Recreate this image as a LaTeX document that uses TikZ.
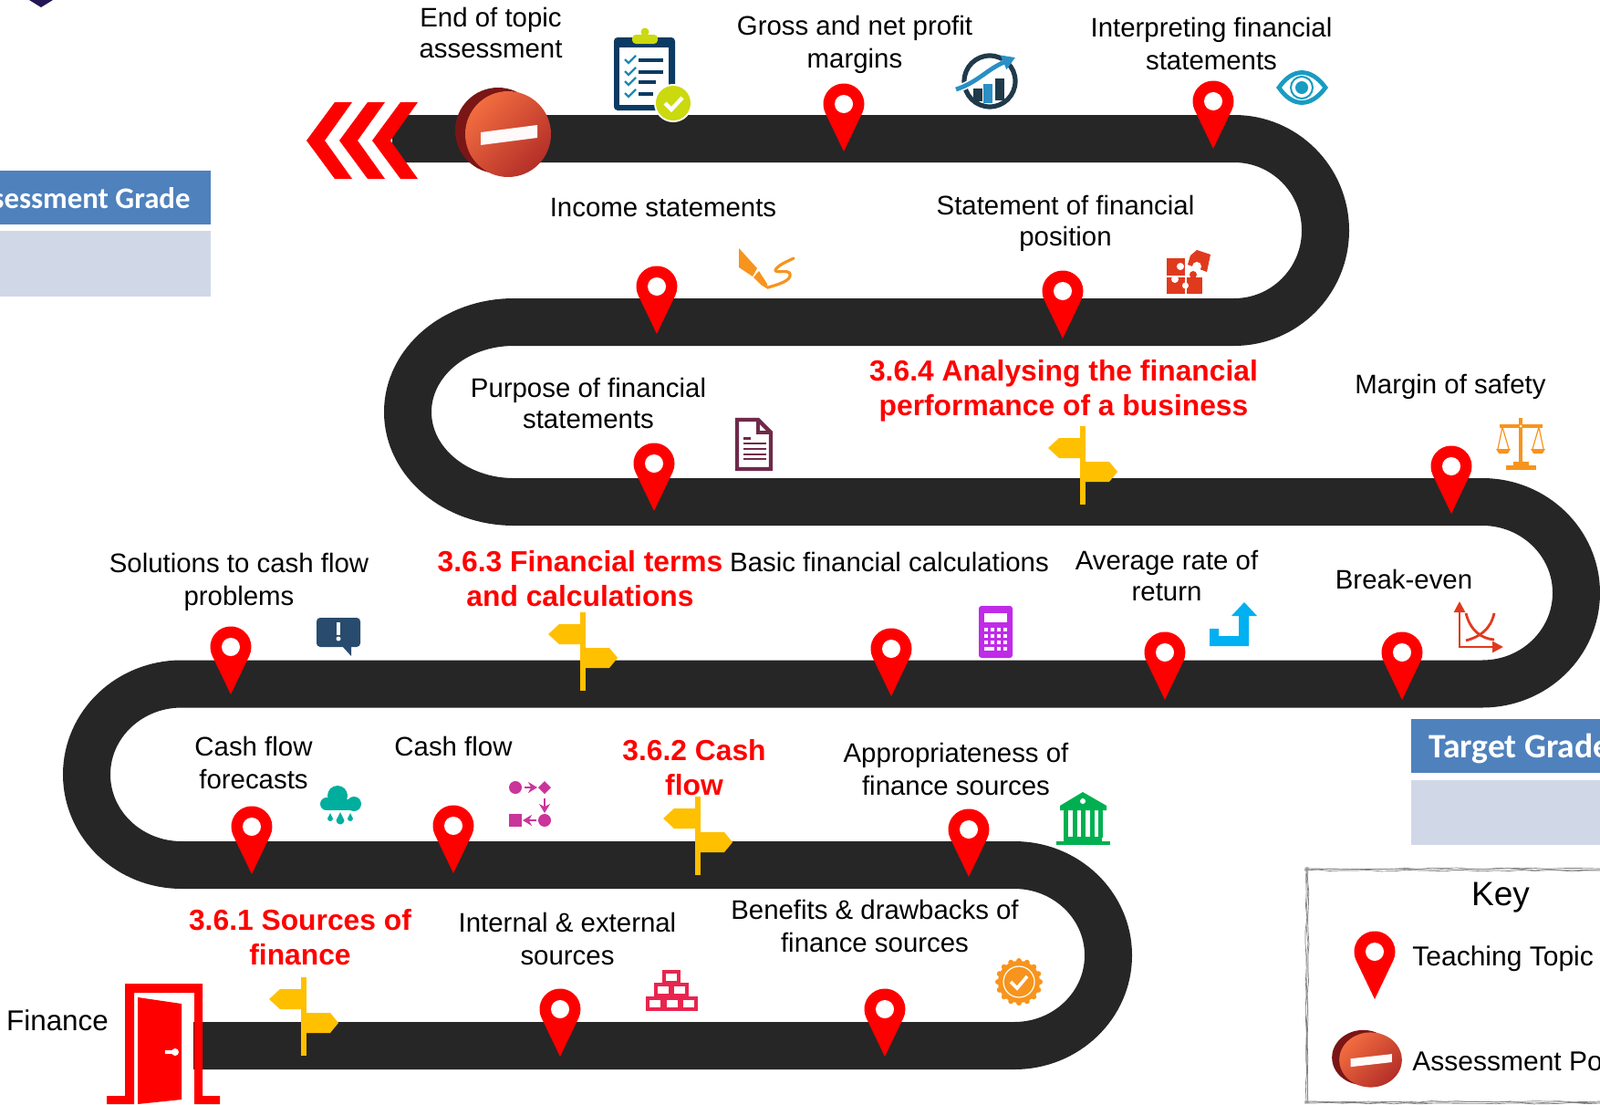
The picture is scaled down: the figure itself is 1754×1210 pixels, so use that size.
\documentclass[tikz,border=0pt]{standalone}
\usepackage{fontspec}
\usepackage{xcolor}
\setmainfont{Liberation Sans}
\newfontfamily\gradefont{Carlito}
\usetikzlibrary{arrows.meta,decorations.pathmorphing}

\definecolor{roadgrey}{HTML}{262626}
\definecolor{pinred}{HTML}{FF0000}
\definecolor{postyellow}{HTML}{FFC000}
\definecolor{headblue}{HTML}{4F81BD}
\definecolor{paleblue}{HTML}{D0D8E8}
\definecolor{stoplight}{HTML}{F26C40}
\definecolor{stopdark}{HTML}{B42F28}
\definecolor{stopback}{HTML}{7A1616}
\definecolor{crestnavy}{HTML}{241654}
\definecolor{clipnavy}{HTML}{0B3A63}
\definecolor{clipgreen}{HTML}{CBD90F}
\definecolor{tickblue}{HTML}{1D8CB3}
\definecolor{arrowblue}{HTML}{2A8FC4}
\definecolor{ringnavy}{HTML}{1F3A4A}
\definecolor{eyeblue}{HTML}{1A9BC2}
\definecolor{iconorange}{HTML}{F7941D}
\definecolor{docplum}{HTML}{6F2A4A}
\definecolor{puzzlered}{HTML}{E03A1E}
\definecolor{chatblue}{HTML}{284B6E}
\definecolor{calcpurple}{HTML}{C02BE8}
\definecolor{returncyan}{HTML}{00B0F0}
\definecolor{cloudteal}{HTML}{00AE9E}
\definecolor{flowpink}{HTML}{C9359B}
\definecolor{barcrimson}{HTML}{E8254F}
\definecolor{bankgreen}{HTML}{00B050}

\tikzset{
    topictext/.style={inner sep=0pt,align=center,font=\fontsize{14.7}{17}\selectfont},
    widetext/.style={topictext,font=\fontsize{14.7}{18}\selectfont},
    sectiontext/.style={inner sep=0pt,align=center,text=pinred,font=\fontsize{15.9}{19}\selectfont\bfseries},
    gradetext/.style={inner sep=0pt,text=white,font=\fontsize{16.4}{20}\selectfont\gradefont\bfseries},
    sketchline/.style={gray,line width=0.35pt,decorate,decoration={random steps,segment length=7pt,amplitude=0.5pt}},
    mapPin/.pic={
        \fill[pinred] (0,0) -- (-20.3,-42.3) arc[start angle=154.4,end angle=385.6,radius=22.5] -- cycle;
        \fill[white] (0,-52) circle[radius=10];
    },
    signPost/.pic={
        \fill[postyellow] (-3,-86) rectangle (3,0);
        \fill[postyellow] (-3,-73) -- (-26,-73) -- (-38,-62) -- (-26,-51) -- (-3,-51) -- cycle;
        \fill[postyellow] (3,-47) -- (29,-47) -- (38,-36) -- (29,-25) -- (3,-25) -- cycle;
    },
    stopSign/.pic={
        \fill[stopback] (-11,-4) circle[radius=47];
        \shade[top color=stoplight,bottom color=stopdark,shading angle=45] (0,0) circle[radius=47];
        \fill[white!92!pink] (-30,-2) -- (32,-10) -- (32,4) -- (-30,12) -- cycle;
    },
}

\begin{document}
\begin{tikzpicture}[x=0.5pt,y=-0.5pt]
    \useasboundingbox (0,0) rectangle (1754,1210);
    \clip (0,0) rectangle (1754,1210);

    % road
    \draw[roadgrey,line width=26pt] (430,152) -- (1353,152)
        arc[start angle=-90,end angle=90,x radius=100,y radius=100.5] -- (563,353)
        arc[start angle=270,end angle=90,x radius=116,y radius=98.5] -- (1625,550)
        arc[start angle=-90,end angle=90,x radius=103,y radius=99.75] -- (199,749.5)
        arc[start angle=270,end angle=90,x radius=104,y radius=99.25] -- (1112,948)
        arc[start angle=-90,end angle=90,x radius=103,y radius=99] -- (212,1146);

    % end chevrons
    \foreach \tipx in {336,372,408}
        \fill[pinred] (\tipx,154) -- (\tipx+31,112) -- (\tipx+50,112) -- (\tipx+20,154) -- (\tipx+50,196) -- (\tipx+31,196) -- cycle;

    % door
    \fill[pinred] (117,1210) -- (117,1201) -- (137,1201) -- (137,1078) -- (222,1078) -- (222,1201) -- (241,1201) -- (241,1210)
        -- (213,1210) -- (213,1088) -- (147,1088) -- (147,1210) -- cycle;
    \fill[pinred] (151,1093) -- (199,1100) -- (199,1205) -- (151,1210) -- cycle;
    \draw[white,line width=1.6pt] (181,1153) -- (191,1153);
    \fill[white] (192,1153) circle[radius=4];

    % grade boxes
    \fill[headblue] (0,187) rectangle (231,246);
    \fill[paleblue] (0,253) rectangle (231,325);
    \node[gradetext,anchor=east] (assessGrade) at (209,217) {Assessment Grade};
    \fill[headblue] (1547,788) rectangle (1754,847);
    \fill[paleblue] (1547,855) rectangle (1754,926);
    \node[gradetext,anchor=west,font=\fontsize{18.8}{22}\selectfont\gradefont\bfseries] (targetGrade) at (1566,820) {Target Grade};

    % crest cut by the page edge
    \fill[crestnavy] (32,0) -- (58,0) -- (45,8) -- cycle;

    % key
    \foreach \off in {-1,0,1} {
        \draw[sketchline] (1433+\off,950) -- (1433+\off,1209);
        \draw[sketchline] (1430,953+\off) -- (1754,953+\off);
        \draw[sketchline] (1430,1208+\off) -- (1754,1208+\off);
    }
    \node[inner sep=0pt,font=\fontsize{18.5}{22}\selectfont] (keyTitle) at (1645,984) {Key};
    \pic (keyPin) at (1507,1095) {mapPin};
    \node[topictext,anchor=west,font=\fontsize{15}{17}\selectfont] (keyTopic) at (1548,1051) {Teaching Topic};
    \pic[xscale=.73,yscale=.64] (keyStop) at (1502.5,1161.5) {stopSign};
    \node[topictext,anchor=west,font=\fontsize{15}{17}\selectfont] (keyPoint) at (1548,1163) {Assessment Point};

    % markers on the road
    \pic (stopEnd) at (557,147) {stopSign};
    \pic (pinGross) at (925,166) {mapPin};
    \pic (pinInterp) at (1330,163) {mapPin};
    \pic (pinIncome) at (720,366) {mapPin};
    \pic (pinPosition) at (1165,371) {mapPin};
    \pic (pinPurpose) at (717,560) {mapPin};
    \pic (pinSafety) at (1591,563) {mapPin};
    \pic (pinSolutions) at (253,761) {mapPin};
    \pic (pinBasic) at (977,763) {mapPin};
    \pic (pinAverage) at (1277,767) {mapPin};
    \pic (pinBreak) at (1537,767) {mapPin};
    \pic (pinForecast) at (276,958) {mapPin};
    \pic (pinCash) at (497,957) {mapPin};
    \pic (pinApprop) at (1062,961) {mapPin};
    \pic (pinInternal) at (614,1158) {mapPin};
    \pic (pinBenefits) at (970,1158) {mapPin};
    \pic (postSources) at (333,1157) {signPost};
    \pic (postCash) at (765,959) {signPost};
    \pic (postTerms) at (639,757) {signPost};
    \pic (postRatios) at (1187,553) {signPost};

    % texts
    \node[topictext] (endTopic) at (538,36) {End of topic\\assessment};
    \node[widetext] (gross) at (937,49) {Gross and net profit\\margins};
    \node[widetext] (interp) at (1328,48) {Interpreting financial\\statements};
    \node[topictext] (income) at (727,228) {Income statements};
    \node[topictext] (position) at (1168,245) {Statement of financial\\position};
    \node[sectiontext] (secRatios) at (1166,428) {3.6.4 Analysing the financial\\performance of a business};
    \node[topictext] (safety) at (1590,424) {Margin of safety};
    \node[topictext] (purpose) at (645,442) {Purpose of financial\\statements};
    \node[widetext] (solutions) at (262,638) {Solutions to cash flow\\problems};
    \node[sectiontext] (secTerms) at (636,634) {3.6.3 Financial terms\\and calculations};
    \node[topictext] (basic) at (975,616) {Basic financial calculations};
    \node[topictext] (average) at (1279,631) {Average rate of\\return};
    \node[topictext] (breakEven) at (1539,635) {Break-even};
    \node[widetext] (forecast) at (278,836) {Cash flow\\forecasts};
    \node[topictext] (cash) at (497,818) {Cash flow};
    \node[sectiontext] (secCash) at (761,841) {3.6.2 Cash\\flow};
    \node[widetext] (approp) at (1048,843) {Appropriateness of\\finance sources};
    \node[sectiontext] (secSources) at (329,1027) {3.6.1 Sources of\\finance};
    \node[widetext] (internal) at (622,1029) {Internal \& external\\sources};
    \node[widetext] (benefits) at (959,1015) {Benefits \& drawbacks of\\finance sources};
    \node[topictext,font=\fontsize{15.7}{18}\selectfont] (finance) at (63,1118) {Finance};

    % clipboard
    \fill[clipnavy,rounded corners=2pt] (673,41) rectangle (740,121);
    \fill[white] (679,52) rectangle (733,115);
    \fill[clipgreen,rounded corners=2pt] (693,38) rectangle (721,48);
    \fill[clipgreen] (707,35) circle[radius=4.5];
    \foreach \rowy/\endx in {66/727,79/727,90/719,103/716} {
        \draw[tickblue,line width=1.2pt] (685,\rowy-1) -- (689,\rowy+3) -- (697,\rowy-5);
        \draw[clipnavy,line width=1.7pt] (700,\rowy) -- (\endx,\rowy);
    }
    \fill[white] (738,113) circle[radius=21];
    \fill[clipgreen] (738,113) circle[radius=19];
    \draw[white,line width=2.2pt] (729,113) -- (736,120) -- (748,107);

    % growth chart
    \draw[ringnavy,line width=2.6pt] (1085,89) circle[radius=28];
    \fill[ringnavy] (1067,97) rectangle (1077,111);
    \fill[arrowblue] (1078,92) rectangle (1088,113);
    \fill[ringnavy] (1091,86) rectangle (1101,110);
    \draw[white,line width=4pt] (1048,98) .. controls (1072,90) and (1082,76) .. (1105,68);
    \draw[arrowblue,line width=2.4pt,-{Triangle[length=7pt,width=8pt]}] (1048,98) .. controls (1072,90) and (1082,76) .. (1113,63);

    % eye
    \draw[eyeblue,line width=2.4pt] (1402,96) .. controls (1417,74) and (1437,74) .. (1453,96) .. controls (1437,118) and (1417,118) .. cycle;
    \draw[eyeblue,line width=1pt] (1427,96) circle[radius=12];
    \fill[eyeblue] (1427,96) circle[radius=7];

    % pen
    \fill[iconorange] (810,272) -- (830,294) -- (825,303) -- (810,293) -- cycle;
    \fill[iconorange] (832,297) -- (841,311) -- (842,317) -- (834,312) -- (826,304) -- cycle;
    \draw[iconorange,line width=1.6pt,line cap=round,line join=round] (842,315) .. controls (852,312) and (868,308) .. (866,300) .. controls (864,295) and (850,300) .. (850,296) .. controls (852,291) and (862,287) .. (870,283);

    % puzzle
    \fill[puzzlered] (1279,283) rectangle (1299,302);
    \fill[puzzlered] (1279,303.5) rectangle (1299,322);
    \fill[puzzlered] (1300.5,303.5) rectangle (1318,322);
    \fill[puzzlered] (1308,301) circle[radius=4];
    \fill[white] (1294,292) circle[radius=4];
    \fill[white] (1288,306) circle[radius=4];
    \fill[white] (1299.5,313) circle[radius=3.5];
    \fill[puzzlered] (1312,274) -- (1327,279) -- (1323,298) -- (1302,290) -- (1305,280) -- cycle;
    \fill[white] (1312,292) circle[radius=5];

    % document
    \draw[docplum,line width=2.2pt,line join=miter] (808,460) -- (831,460) -- (845,474) -- (845,514) -- (808,514) -- cycle;
    \draw[docplum,line width=1.6pt] (831,460) -- (831,474) -- (845,474);
    \draw[docplum,line width=1.5pt] (815,480) -- (823,480);
    \foreach \rowy in {486,492,498,503}
        \draw[docplum,line width=1.4pt] (815,\rowy) -- (840,\rowy);

    % scales
    \fill[iconorange] (1665,458) rectangle (1669,508);
    \fill[iconorange] (1644,465) rectangle (1691,469);
    \fill[iconorange] (1659,506) rectangle (1676,510);
    \fill[iconorange] (1651,510) rectangle (1684,515);
    \fill[white] (1667,467) circle[radius=1.5];
    \draw[iconorange,line width=0.6pt] (1642,492) -- (1647,468) -- (1654,492);
    \draw[iconorange,line width=0.6pt] (1680,492) -- (1687,468) -- (1692,492);
    \fill[iconorange] (1640,492) -- (1656,492) -- (1653,497) -- (1643,497) -- cycle;
    \fill[iconorange] (1678,492) -- (1694,492) -- (1691,497) -- (1681,497) -- cycle;

    % chat bubble
    \fill[chatblue,rounded corners=2pt] (347,677) rectangle (395,709);
    \fill[chatblue] (375,708) -- (385,719) -- (385,708) -- cycle;
    \draw[white,line width=1.9pt] (371,682) -- (371,696);
    \fill[white] (371,700) circle[radius=2.5];

    % calculator
    \fill[calcpurple,rounded corners=1.5pt] (1073,664) rectangle (1110,721);
    \fill[white] (1079,672) rectangle (1104,682);
    \foreach \keyx in {1081,1088,1095,1102}
        \foreach \keyy in {688,695,702}
            \fill[white] (\keyx-2,\keyy) rectangle (\keyx+2,\keyy+4);
    \fill[white] (1079,709) rectangle (1090,713);
    \fill[white] (1093,709) rectangle (1097,713);
    \fill[white] (1100,709) rectangle (1104,713);

    % return arrow
    \fill[returncyan] (1326,689) -- (1336,689) -- (1336,697) -- (1358,697) -- (1358,675) -- (1350,675) -- (1364,660) -- (1378,675) -- (1369,675) -- (1369,708) -- (1326,708) -- cycle;

    % break-even graph
    \draw[puzzlered,line width=1.3pt,{Triangle[length=6pt,width=6pt]}-{Triangle[length=6pt,width=6pt]}] (1600,659) -- (1600,709) -- (1648,709);
    \draw[puzzlered,line width=1.4pt] (1607,672) .. controls (1612,692) and (1625,700) .. (1638,701);
    \draw[puzzlered,line width=1.4pt] (1607,702) .. controls (1622,698) and (1634,690) .. (1638,672);

    % rain cloud
    \fill[cloudteal] (370,872) circle[radius=11];
    \fill[cloudteal] (358,881) circle[radius=7];
    \fill[cloudteal] (388,881) circle[radius=8];
    \fill[cloudteal] (358,876) rectangle (388,888);
    \foreach \dropx/\dropy/\dropr in {362/897/3,373/899/4.5,384/897/3}
        \fill[cloudteal] (\dropx,\dropy-2*\dropr) -- (\dropx+\dropr,\dropy) arc[start angle=0,end angle=180,radius=\dropr] -- cycle;

    % flow chart
    \fill[flowpink] (565,863) circle[radius=7];
    \fill[flowpink] (597,856) -- (604,863) -- (597,870) -- (590,863) -- cycle;
    \fill[flowpink] (597,899) circle[radius=7];
    \fill[flowpink] (558,892) rectangle (572,906);
    \draw[flowpink,line width=1pt,-{Stealth[length=5pt,width=6pt]}] (575,863) -- (589,863);
    \draw[flowpink,line width=1pt,-{Stealth[length=5pt,width=6pt]}] (597,875) -- (597,891);
    \draw[flowpink,line width=1pt,-{Stealth[length=5pt,width=6pt]}] (588,899) -- (573,899);

    % gold bars
    \foreach \blockx/\blocky in {710/1094,729/1094,747/1094,719/1079,737/1079,728/1065}
        \draw[barcrimson,line width=1.9pt] (\blockx,\blocky) rectangle (\blockx+16,\blocky+12);

    % bank
    \fill[bankgreen] (1187,868) -- (1213,883) -- (1213,888) -- (1162,888) -- (1162,883) -- cycle;
    \fill[white] (1187,878) circle[radius=3];
    \foreach \colx in {1168,1178,1187,1197,1206}
        \fill[bankgreen] (\colx-2.5,888) rectangle (\colx+2.5,918);
    \fill[bankgreen] (1166,917) rectangle (1208,922);
    \fill[bankgreen] (1158,922) rectangle (1217,926);

    % badge
    \fill[iconorange] (1117,1076) circle[radius=23];
    \foreach \ang in {0,22.5,...,337.5}
        \fill[iconorange] (1117,1076) ++(\ang:23) circle[radius=3];
    \draw[white,line width=0.6pt] (1117,1076) circle[radius=17];
    \draw[white,line width=1.8pt] (1108,1076) -- (1115,1083) -- (1126,1070);
\end{tikzpicture}
\end{document}
